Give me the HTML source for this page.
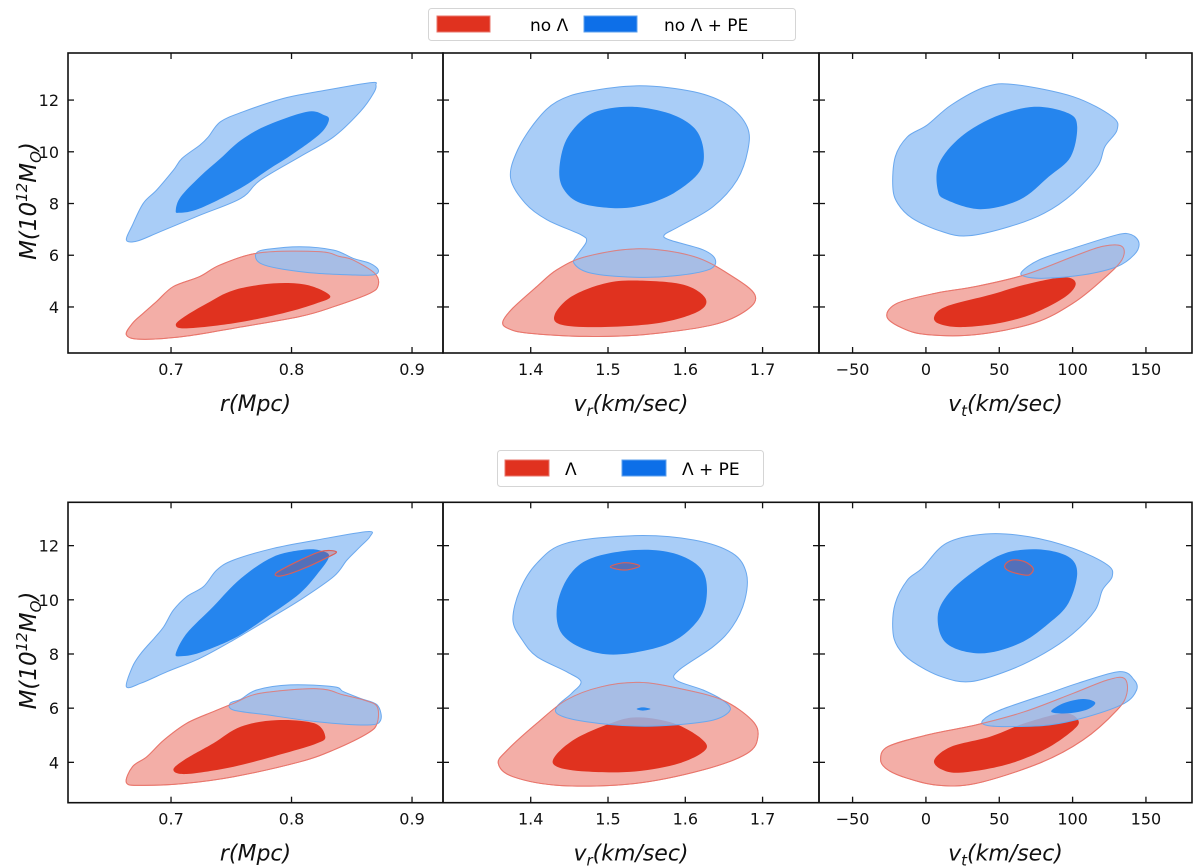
<!DOCTYPE html>
<html><head><meta charset="utf-8"><style>
html,body{margin:0;padding:0;background:#fff;}
svg{display:block;font-family:"DejaVu Sans","Liberation Sans",sans-serif;}
</style></head><body>
<svg id="fig" width="1200" height="866" viewBox="0 0 1200 866" xmlns="http://www.w3.org/2000/svg">
<g>
<rect x="428.5" y="8.5" width="367" height="32" rx="3" fill="#fff" stroke="#d5d5d5" stroke-width="1"/>
<rect x="437" y="16" width="53" height="16" fill="#e0321f" stroke="#e8756b"/>
<text x="530" y="31" font-size="17">no Λ</text>
<rect x="584" y="16" width="53" height="16" fill="#0d6fe8" stroke="#5ea0ee"/>
<text x="664" y="31" font-size="17">no Λ + PE</text>
</g>
<g>
<rect x="497.5" y="450.5" width="266" height="36" rx="3" fill="#fff" stroke="#d5d5d5" stroke-width="1"/>
<rect x="505" y="460" width="44" height="16" fill="#e0321f" stroke="#e8756b"/>
<text x="565" y="475" font-size="17">Λ</text>
<rect x="622" y="460" width="44" height="16" fill="#0d6fe8" stroke="#5ea0ee"/>
<text x="682" y="475" font-size="17">Λ + PE</text>
</g>
</svg>
<script>
// ---- data (contours in data coordinates: [x, M]) ----
const xTicksR = [0.7, 0.8, 0.9];
const xTicksVr = [1.4, 1.5, 1.6, 1.7];
const xTicksVt = [-50, 0, 50, 100, 150];
const yTicks = [4, 6, 8, 10, 12];

// top row, r
const t1BlueOuter = [[0.663,6.59],[0.668,7.17],[0.677,8.01],[0.688,8.52],[0.702,9.29],[0.709,9.74],[0.724,10.26],[0.731,10.58],[0.741,11.16],[0.760,11.55],[0.793,12.06],[0.821,12.32],[0.865,12.67],[0.870,12.58],[0.868,12.26],[0.857,11.55],[0.835,10.58],[0.807,9.81],[0.774,8.90],[0.758,8.20],[0.724,7.55],[0.691,6.91],[0.672,6.55]];
const t1BlueInner = [[0.704,7.75],[0.708,8.26],[0.724,9.04],[0.741,9.74],[0.758,10.45],[0.780,11.03],[0.813,11.55],[0.827,11.42],[0.831,11.23],[0.824,10.71],[0.802,9.94],[0.780,9.29],[0.758,8.60],[0.724,7.81],[0.707,7.64]];
const t1RedOuter = [[0.663,2.92],[0.668,3.37],[0.677,3.76],[0.688,4.21],[0.702,4.79],[0.724,5.18],[0.741,5.63],[0.774,6.10],[0.823,6.14],[0.840,5.95],[0.851,5.82],[0.869,5.30],[0.872,4.85],[0.865,4.53],[0.835,4.01],[0.807,3.63],[0.752,3.18],[0.711,2.86],[0.675,2.75]];
const t1RedInner = [[0.704,3.30],[0.711,3.62],[0.730,4.14],[0.752,4.65],[0.785,4.91],[0.813,4.85],[0.832,4.43],[0.821,4.14],[0.793,3.76],[0.752,3.37],[0.713,3.17]];
const t1BlueSmall = [[0.771,6.10],[0.780,6.23],[0.807,6.33],[0.835,6.20],[0.851,5.88],[0.865,5.69],[0.872,5.43],[0.868,5.24],[0.849,5.24],[0.821,5.30],[0.793,5.46],[0.777,5.63],[0.771,5.82]];

// top row, v_r
const t2BlueOuter = [[1.374,8.98],[1.383,10.07],[1.408,11.23],[1.434,11.94],[1.472,12.32],[1.541,12.55],[1.611,12.32],[1.655,11.81],[1.680,10.97],[1.681,10.07],[1.667,8.91],[1.636,7.88],[1.592,7.11],[1.573,6.79],[1.580,6.59],[1.623,6.21],[1.639,5.82],[1.630,5.44],[1.585,5.20],[1.535,5.15],[1.478,5.31],[1.456,5.69],[1.462,6.08],[1.472,6.53],[1.465,6.79],[1.421,7.37],[1.393,8.01]];
const t2BlueInner = [[1.437,9.30],[1.446,10.46],[1.472,11.36],[1.503,11.68],[1.541,11.72],[1.585,11.42],[1.614,10.84],[1.624,9.94],[1.617,9.17],[1.585,8.40],[1.547,7.95],[1.509,7.82],[1.465,8.01],[1.443,8.53]];
const t2RedOuter = [[1.364,3.44],[1.377,3.96],[1.408,4.79],[1.434,5.44],[1.472,5.95],[1.541,6.25],[1.611,5.95],[1.661,5.18],[1.690,4.47],[1.680,3.89],[1.636,3.31],[1.547,2.93],[1.472,2.86],[1.396,2.99],[1.370,3.18]];
const t2RedInner = [[1.431,3.70],[1.453,4.41],[1.497,4.92],[1.541,5.02],[1.598,4.86],[1.626,4.34],[1.617,3.83],[1.566,3.38],[1.491,3.22],[1.440,3.31]];

// top row, v_t
const t3BlueOuter = [[-22.6,8.65],[-20.9,9.81],[-12.6,10.58],[0.7,11.03],[17.3,11.81],[40.6,12.51],[60.5,12.60],[100.4,12.13],[127,11.36],[130.3,10.84],[122,10.20],[117,9.43],[100.4,8.40],[80.5,7.62],[57.2,7.11],[28.9,6.75],[10.6,6.92],[-9.3,7.43],[-19.3,8.01]];
const t3BlueInner = [[8.0,8.53],[9.0,9.55],[23.9,10.58],[47.2,11.36],[73.8,11.74],[97.1,11.49],[103.1,10.97],[98.7,9.81],[83.8,9.04],[63.8,8.14],[37.2,7.78],[14.0,8.14]];
const t3RedOuter = [[-26.6,3.63],[-19.3,4.15],[7.3,4.54],[33.9,4.79],[67.2,5.24],[100.4,5.95],[120.3,6.34],[133.6,6.34],[133.6,5.82],[120.3,5.05],[100.4,4.15],[73.8,3.38],[33.9,2.93],[0.7,2.93],[-16,3.18]];
const t3RedInner = [[5.7,3.63],[14.0,4.02],[43.9,4.47],[67.2,4.86],[93.8,5.15],[102.1,4.92],[95.4,4.41],[73.8,3.76],[50.5,3.38],[23.9,3.22],[9.0,3.35]];
const t3BlueSmall = [[65.5,5.37],[77.1,5.82],[100.4,6.27],[130.3,6.79],[140.3,6.79],[145.3,6.47],[142,6.02],[130.3,5.56],[107,5.24],[80.5,5.11],[67.2,5.18]];

// bottom row, r
const b1BlueOuter = [[0.663,6.79],[0.668,7.53],[0.675,8.02],[0.686,8.58],[0.694,9.01],[0.702,9.62],[0.713,10.12],[0.727,10.49],[0.738,11.10],[0.752,11.47],[0.785,11.90],[0.821,12.21],[0.863,12.52],[0.865,12.33],[0.857,11.96],[0.846,11.47],[0.835,10.86],[0.807,9.99],[0.780,9.26],[0.752,8.52],[0.724,7.84],[0.697,7.35],[0.675,6.92]];
const b1BlueInner = [[0.704,8.02],[0.713,8.76],[0.735,9.75],[0.758,10.79],[0.785,11.59],[0.813,11.86],[0.827,11.78],[0.831,11.59],[0.824,11.10],[0.807,10.24],[0.780,9.38],[0.755,8.64],[0.724,8.05],[0.708,7.92]];
const b1RedLoop = [[0.787,10.98],[0.802,11.35],[0.824,11.78],[0.837,11.78],[0.831,11.59],[0.807,11.10],[0.791,10.88]];
const b1RedOuter = [[0.663,3.25],[0.668,3.84],[0.680,4.21],[0.694,4.82],[0.713,5.44],[0.735,5.87],[0.752,6.18],[0.774,6.55],[0.821,6.72],[0.843,6.49],[0.860,6.30],[0.871,6.06],[0.871,5.44],[0.863,5.07],[0.835,4.46],[0.807,4.02],[0.752,3.47],[0.711,3.22],[0.675,3.15]];
const b1RedInner = [[0.702,3.72],[0.711,4.09],[0.735,4.70],[0.758,5.32],[0.788,5.56],[0.819,5.44],[0.828,4.95],[0.821,4.70],[0.794,4.33],[0.752,3.84],[0.713,3.57]];
const b1BlueSmall = [[0.749,6.18],[0.758,6.33],[0.771,6.67],[0.799,6.86],[0.835,6.79],[0.843,6.61],[0.857,6.36],[0.871,6.12],[0.874,5.56],[0.863,5.38],[0.821,5.50],[0.780,5.75],[0.752,5.93]];

// bottom row, v_r
const b2BlueOuter = [[1.377,9.26],[1.386,10.36],[1.408,11.35],[1.446,12.09],[1.535,12.37],[1.611,12.21],[1.661,11.72],[1.679,10.98],[1.677,9.99],[1.661,9.01],[1.636,8.27],[1.592,7.41],[1.588,7.04],[1.623,6.67],[1.648,6.30],[1.658,5.93],[1.636,5.56],[1.585,5.38],[1.535,5.34],[1.472,5.50],[1.437,5.75],[1.434,6.06],[1.453,6.55],[1.465,6.98],[1.446,7.35],[1.408,7.90],[1.389,8.52]];
const b2BlueInner = [[1.434,9.75],[1.449,10.86],[1.478,11.53],[1.535,11.84],[1.585,11.72],[1.620,11.16],[1.628,10.24],[1.617,9.26],[1.579,8.39],[1.516,7.99],[1.472,8.15],[1.440,8.76]];
const b2RedLoop = [[1.503,11.22],[1.522,11.37],[1.541,11.25],[1.522,11.10]];
const b2BlueTiny = [[1.537,5.97],[1.545,6.03],[1.555,5.97],[1.545,5.91]];
const b2RedOuter = [[1.358,3.96],[1.370,4.46],[1.408,5.44],[1.446,6.30],[1.491,6.79],[1.541,6.95],[1.592,6.73],[1.648,6.30],[1.686,5.56],[1.694,4.95],[1.680,4.33],[1.623,3.72],[1.535,3.22],[1.440,3.14],[1.377,3.47]];
const b2RedInner = [[1.431,4.21],[1.459,4.89],[1.509,5.50],[1.541,5.66],[1.585,5.44],[1.620,4.89],[1.626,4.46],[1.592,3.96],[1.535,3.66],[1.472,3.66],[1.434,3.84]];

// bottom row, v_t
const b3BlueOuter = [[-22.6,8.89],[-20.9,9.87],[-12.6,10.73],[-2.7,11.16],[14.0,12.09],[40.6,12.43],[70.5,12.33],[100.4,11.90],[123.7,11.29],[127,10.86],[120.3,10.36],[115.4,9.62],[100.4,8.76],[80.5,8.02],[57.2,7.41],[30.6,6.98],[10.6,7.16],[-9.3,7.72],[-19.3,8.27]];
const b3BlueInner = [[8.0,9.38],[15.6,10.24],[33.9,11.10],[53.9,11.72],[77.1,11.86],[97.1,11.59],[103.1,10.98],[97.1,9.87],[83.8,9.13],[63.8,8.39],[37.2,8.02],[14.0,8.39]];
const b3RedLoop = [[53.9,11.29],[58.8,11.47],[67.2,11.41],[73.1,11.16],[70.5,10.92],[63.8,10.95],[55.5,11.10]];
const b3RedOuter = [[-30.9,4.09],[-25.9,4.58],[0.7,5.01],[33.9,5.38],[67.2,5.87],[100.4,6.55],[123.7,7.04],[135.3,7.10],[137,6.55],[130.3,5.93],[107,4.82],[77.1,3.96],[33.9,3.22],[7.3,3.16],[-12.6,3.41],[-25.9,3.72]];
const b3RedInner = [[5.7,4.09],[17.3,4.58],[43.9,4.95],[67.2,5.44],[93.8,5.81],[103.8,5.56],[100.4,5.19],[80.5,4.46],[53.9,3.90],[23.9,3.62],[10.6,3.74]];
const b3BlueSmall = [[38.9,5.56],[50.5,5.93],[83.8,6.55],[103.7,6.92],[132,7.35],[142,7.04],[143.6,6.67],[135.3,6.18],[110.4,5.69],[83.8,5.38],[53.9,5.32],[40.6,5.38]];
const b3BlueDot = [[85.5,5.87],[93.8,6.18],[107,6.34],[115.4,6.21],[110.4,5.96],[97.1,5.81]];

// ---- layout ----
const NS = "http://www.w3.org/2000/svg";
const svg = document.getElementById('fig');
const COLS = [
  {x0:68, x1:443, xmin:0.6145, xmax:0.9257, ticks:xTicksR, fmt:v=>v.toFixed(1), title:['r','','(Mpc)']},
  {x0:443, x1:819, xmin:1.2865, xmax:1.773, ticks:xTicksVr, fmt:v=>v.toFixed(1), title:['v','r','(km/sec)']},
  {x0:819, x1:1192, xmin:-72.9, xmax:181.4, ticks:xTicksVt, fmt:v=>String(v).replace('-','\u2212'), title:['v','t','(km/sec)']}
];
const ROWS = [
  {y0:53, y1:353, ymin:2.22, ymax:13.82, name:'top'},
  {y0:502.3, y1:802.7, ymin:2.51, ymax:13.6, name:'bottom'}
];
const LAYERS = [
  [ [t1RedOuter,t1RedInner,[t1BlueOuter,t1BlueSmall],[t1BlueInner],[],[]],
    [t2RedOuter,t2RedInner,[t2BlueOuter],[t2BlueInner],[],[]],
    [t3RedOuter,t3RedInner,[t3BlueOuter,t3BlueSmall],[t3BlueInner],[],[]] ],
  [ [b1RedOuter,b1RedInner,[b1BlueOuter,b1BlueSmall],[b1BlueInner],[b1RedLoop],[]],
    [b2RedOuter,b2RedInner,[b2BlueOuter],[b2BlueInner,b2BlueTiny],[b2RedLoop],[]],
    [b3RedOuter,b3RedInner,[b3BlueOuter,b3BlueSmall],[b3BlueInner,b3BlueDot],[b3RedLoop],[]] ]
];

function mk(tag, attrs, parent){
  const e = document.createElementNS(NS, tag);
  for (const k in attrs) e.setAttribute(k, attrs[k]);
  (parent||svg).appendChild(e);
  return e;
}
function pathFrom(pts, sx, sy){
  const P = pts.map(p=>[sx(p[0]), sy(p[1])]);
  const n = P.length; let d = 'M'+P[0][0].toFixed(1)+','+P[0][1].toFixed(1);
  for (let i=0;i<n;i++){
    const p0=P[(i-1+n)%n], p1=P[i], p2=P[(i+1)%n], p3=P[(i+2)%n];
    const c1=[p1[0]+(p2[0]-p0[0])/6, p1[1]+(p2[1]-p0[1])/6];
    const c2=[p2[0]-(p3[0]-p1[0])/6, p2[1]-(p3[1]-p1[1])/6];
    d+=' C'+c1[0].toFixed(1)+','+c1[1].toFixed(1)+' '+c2[0].toFixed(1)+','+c2[1].toFixed(1)+' '+p2[0].toFixed(1)+','+p2[1].toFixed(1);
  }
  return d+'Z';
}

ROWS.forEach((row, ri)=>{
  COLS.forEach((col, ci)=>{
    const sx = v => col.x0 + (v-col.xmin)/(col.xmax-col.xmin)*(col.x1-col.x0);
    const sy = v => row.y1 - (v-row.ymin)/(row.ymax-row.ymin)*(row.y1-row.y0);
    const g = mk('g', {});
    
    
    const L = LAYERS[ri][ci];
    const clipId = 'c'+ri+ci;
    const cp = mk('clipPath', {id:clipId}, g);
    mk('rect', {x:col.x0, y:row.y0, width:col.x1-col.x0, height:row.y1-row.y0}, cp);
    const cg = mk('g', {'clip-path':'url(#'+clipId+')'}, g);
    let e = mk('path', {d:pathFrom(L[0],sx,sy), fill:'#f3aea7', stroke:'#e8756b', 'stroke-width':1}, cg);
    
    
    e = mk('path', {d:pathFrom(L[1],sx,sy), fill:'#e0321f'}, cg);
    
    
    L[2].forEach(pts=>{
      const b = mk('path', {d:pathFrom(pts,sx,sy), fill:'#94c1f5', 'fill-opacity':0.8, stroke:'#6aa8ee', 'stroke-width':1}, cg);
      
      
    });
    L[3].forEach(pts=>{
      const b = mk('path', {d:pathFrom(pts,sx,sy), fill:'#2585ee'}, cg);
      
      
    });
    e = mk('path', {d:pathFrom(L[0],sx,sy), fill:'none', stroke:'#e8756b', 'stroke-width':1, 'stroke-opacity':0.8}, cg);
    
    
    L[4].forEach(pts=>{
      const r = mk('path', {d:pathFrom(pts,sx,sy), fill:'#e0321f', 'fill-opacity':0.25, stroke:'#d9605a', 'stroke-width':1.2}, cg);
      
      
    });
    const fr = mk('rect', {x:col.x0, y:row.y0, width:col.x1-col.x0, height:row.y1-row.y0, fill:'none', stroke:'#111', 'stroke-width':1.6}, g);
    
    
    col.ticks.forEach(v=>{
      const x = sx(v);
      mk('line', {x1:x, x2:x, y1:row.y1, y2:row.y1-6, stroke:'#111', 'stroke-width':1.3}, g);
      mk('line', {x1:x, x2:x, y1:row.y0, y2:row.y0+6, stroke:'#111', 'stroke-width':1.3}, g);
      const t = mk('text', {x:x, y:row.y1+22, 'font-size':16, 'text-anchor':'middle', fill:'#111'}, g);
      
      
      t.textContent = col.fmt(v);
    });
    yTicks.forEach(v=>{
      const y = sy(v);
      mk('line', {x1:col.x0, x2:col.x0+6, y1:y, y2:y, stroke:'#111', 'stroke-width':1.3}, g);
      mk('line', {x1:col.x1, x2:col.x1-6, y1:y, y2:y, stroke:'#111', 'stroke-width':1.3}, g);
      if (ci===0){
        const t = mk('text', {x:col.x0-9, y:y+6, 'font-size':16, 'text-anchor':'end', fill:'#111'}, g);
        
        
        t.textContent = v;
      }
    });
    const xt = mk('text', {x:(col.x0+col.x1)/2, y:row.y1+58, 'font-size':22, 'text-anchor':'middle', 'font-style':'italic', fill:'#111'}, g);
    
    
    const a = mk('tspan', {}, xt); a.textContent = col.title[0];
    if (col.title[1]){ const s = mk('tspan', {'font-size':15, dy:5}, xt); s.textContent = col.title[1]; const r = mk('tspan', {dy:-5}, xt); r.textContent = col.title[2]; }
    else { const r = mk('tspan', {}, xt); r.textContent = col.title[2]; }
  });
  const cy = (row.y0+row.y1)/2 - 2;
  const yt = mk('text', {x:0, y:0, 'font-size':23, 'text-anchor':'middle', 'font-style':'italic', fill:'#111', transform:'translate(36,'+cy+') rotate(-90)'});
  
  
  const p1 = mk('tspan', {}, yt); p1.textContent = 'M(10';
  const p2 = mk('tspan', {'font-size':15, dy:-9}, yt); p2.textContent = '12';
  const p3 = mk('tspan', {dy:9}, yt); p3.textContent = 'M';
  const p4 = mk('tspan', {'font-size':15, dy:5}, yt); p4.textContent = 'O';
  const p5 = mk('tspan', {dy:-5}, yt); p5.textContent = ')';
});
</script>
</body></html>
